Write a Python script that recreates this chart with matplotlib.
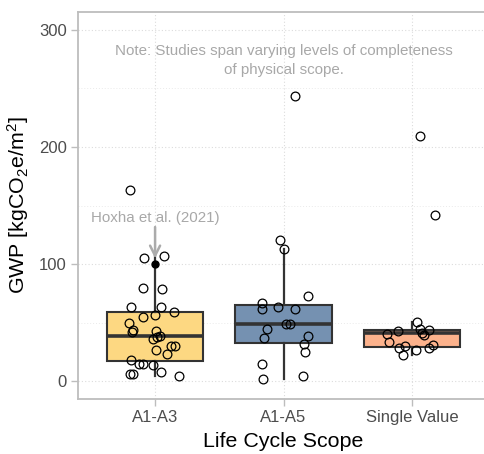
import matplotlib
matplotlib.use("Agg")
import matplotlib.pyplot as plt
from matplotlib.ticker import MultipleLocator

plt.rcParams["font.family"] = ["Liberation Sans", "DejaVu Sans"]
plt.rcParams["mathtext.fontset"] = "custom"
plt.rcParams["mathtext.rm"] = "Liberation Sans"
plt.rcParams["mathtext.it"] = "Liberation Sans:italic"

# -------------------------
# DATA
# -------------------------
categories = ["A1-A3", "A1-A5", "Single Value"]
colors = ["#FDD882", "#7591B1", "#FCB28C"]

# box statistics per category
q1 = [17.6, 32.9, 29.0]
median = [38.5, 49.3, 41.7]
q3 = [59.3, 65.5, 44.0]
whisker_lo = [4.3, 2.3, 22.4]
whisker_hi = [107.2, 112.9, 50.5]

# jittered study points: horizontal jitter (category units) and GWP value
a13_jitter = [-0.192, -0.086, 0.068, -0.096, 0.057, -0.189, 0.044, 0.150, -0.093,
              -0.002, -0.202, -0.169, -0.181, 0.008, 0.039, 0.018, -0.013, 0.127,
              0.158, 0.008, 0.091, -0.187, -0.125, -0.096, -0.013, -0.195, -0.174,
              0.044, 0.187]
a13_gwp = [163.1, 105.0, 107.2, 80.0, 78.6, 63.3, 63.8, 59.3, 54.8,
           57.0, 49.4, 44.0, 42.3, 43.4, 38.9, 37.8, 36.0, 30.4,
           30.6, 26.4, 23.0, 17.9, 14.5, 14.8, 14.2, 6.3, 6.3,
           7.7, 4.3]

a15_jitter = [0.086, -0.029, 0.002, 0.192, -0.166, -0.171, -0.047, 0.088, 0.016,
              0.054, -0.132, -0.153, 0.192, 0.158, 0.163, -0.171, -0.163, 0.150]
a15_gwp = [243.3, 120.5, 112.9, 73.2, 66.7, 61.6, 63.5, 62.1, 48.8,
           49.3, 44.6, 36.9, 39.1, 32.1, 25.5, 14.8, 2.3, 4.6]

sv_jitter = [0.065, 0.179, 0.037, -0.109, 0.065, 0.135, 0.080, 0.093, -0.197,
             -0.179, -0.099, -0.054, -0.070, 0.029, 0.135, 0.166]
sv_gwp = [209.3, 141.8, 50.5, 43.4, 44.6, 44.0, 41.7, 39.5, 40.3,
          34.0, 28.1, 29.8, 22.4, 26.7, 28.1, 31.0]

# highlighted study
hoxha_label = "Hoxha et al. (2021)"
hoxha_cat = 0
hoxha_gwp = 100.0

note_text = "Note: Studies span varying levels of completeness\nof physical scope."


def main():
    fig = plt.figure(figsize=(4.85, 4.54), dpi=100)
    # panel runs past the right edge of the figure, as in the source image
    ax = fig.add_axes([0.1608, 0.1211, 0.9113, 0.8525])

    border = "#BDBDBD"
    edge = "#333333"

    stats = []
    for i, name in enumerate(categories):
        stats.append({"label": name, "q1": q1[i], "med": median[i], "q3": q3[i],
                      "whislo": whisker_lo[i], "whishi": whisker_hi[i]})

    bp = ax.bxp(stats, positions=range(len(categories)), widths=0.75,
                showfliers=False, showcaps=False, patch_artist=True,
                boxprops=dict(edgecolor=edge, linewidth=1.5),
                whiskerprops=dict(color=edge, linewidth=1.6),
                medianprops=dict(color=edge, linewidth=2.6, solid_capstyle="butt"),
                zorder=2)
    for patch, c in zip(bp["boxes"], colors):
        patch.set_facecolor(c)

    groups = [(a13_jitter, a13_gwp), (a15_jitter, a15_gwp), (sv_jitter, sv_gwp)]
    for i, (jit, vals) in enumerate(groups):
        xs = [i + j for j in jit]
        ax.plot(xs, vals, linestyle="none", marker="o", markersize=6.3,
                markerfacecolor="none", markeredgecolor="black",
                markeredgewidth=0.9, zorder=3)

    ax.plot([hoxha_cat], [hoxha_gwp], linestyle="none", marker="o",
            markersize=5, color="black", zorder=4)
    ax.annotate("", xy=(hoxha_cat, hoxha_gwp + 2.5), xytext=(hoxha_cat, 134),
                arrowprops=dict(arrowstyle="->", color="#ABABAB", lw=1.8,
                                mutation_scale=18), zorder=5)
    ax.text(hoxha_cat, 139, hoxha_label, ha="center", va="center",
            fontsize=10.9, color="#A8A8A8", zorder=5)

    ax.text(1, 287.5, note_text, ha="center", va="top", fontsize=10.9,
            color="#A8A8A8", linespacing=1.4)

    ax.set_xlim(-0.6, 2.84)
    ax.set_ylim(-15, 315)
    ax.set_xticks(range(len(categories)))
    ax.set_xticklabels(categories)
    ax.yaxis.set_major_locator(MultipleLocator(100))
    ax.yaxis.set_minor_locator(MultipleLocator(50))

    ax.grid(True, which="major", linestyle=(0, (1, 2)), color="#DCDCDC", lw=0.8)
    ax.grid(True, which="minor", axis="y", linestyle=(0, (1, 2)), color="#EAEAEA", lw=0.7)
    ax.set_axisbelow(True)

    for side in ["top", "left", "bottom"]:
        ax.spines[side].set_color(border)
        ax.spines[side].set_linewidth(1.3)
    ax.spines["right"].set_visible(False)

    ax.tick_params(axis="both", which="major", length=5, width=1, color=border,
                   labelsize=12, labelcolor="#4D4D4D", pad=3)
    ax.tick_params(axis="y", which="minor", length=0)

    ax.set_xlabel("Life Cycle Scope", fontsize=15.4, color="black", labelpad=4)
    ax.xaxis.set_label_coords((283 - 78) / (520 - 78), -0.085)
    ax.set_ylabel("GWP [kgCO$_2$e/m$^2$]", fontsize=15.4, color="black", labelpad=6)

    fig.savefig("out.png", dpi=100)
    plt.close(fig)


if __name__ == "__main__":
    main()
